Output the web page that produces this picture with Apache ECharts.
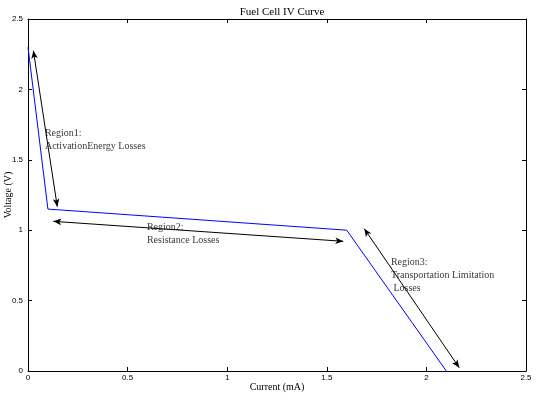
<!DOCTYPE html>
<html>
<head>
<meta charset="utf-8">
<script src="https://cdn.jsdelivr.net/npm/echarts@6/dist/echarts.min.js"></script>
<style>
  html, body { margin: 0; padding: 0; background: #fff; }
  #chart { width: 539px; height: 399px; }
</style>
</head>
<body>
<div id="chart"></div>
<script>
// IV curve of the fuel cell
const curveX = [0, 0.1, 1.6, 2.1];
const curveY = [2.3, 1.15, 1.0, 0];

// double arrows [x1, y1, x2, y2]
const arrows = [
  [0.027, 2.275, 0.147, 1.167],
  [0.127, 1.063, 1.583, 0.921],
  [1.688, 1.011, 2.165, 0.023]
];

// labels: [x, y, text]
const labels = [
  [0.08, 1.644, 'Region1:\nActivationEnergy Losses'],
  [0.592, 0.973, 'Region2:\nResistance Losses'],
  [1.817, 0.682, 'Region3:\nTransportation Limitation\n Losses']
];

const tickLabels = ['0', '0.5', '1', '1.5', '2', '2.5'];

const serif = '"Liberation Serif", "DejaVu Serif", serif';
const sans = '"Liberation Sans", Arial, sans-serif';

const chart = echarts.init(document.getElementById('chart'), null, { renderer: 'canvas' });

const axisCommon = {
  type: 'value',
  min: 0,
  max: 2.5,
  interval: 0.5,
  splitLine: { show: false },
  axisLine: { show: true, onZero: false, lineStyle: { color: '#000', width: 1 } },
  axisTick: { show: true, inside: true, length: 4, lineStyle: { color: '#000' } }
};

const pairs = curveX.map((x, i) => [x, curveY[i]]);

chart.setOption({
  animation: false,
  title: {
    text: 'Fuel Cell IV Curve',
    left: 277,
    top: 2,
    textAlign: 'center',
    textStyle: { fontFamily: serif, fontSize: 11, fontWeight: 'normal', color: '#000' }
  },
  grid: { left: 28, right: 13, top: 19, bottom: 28, containLabel: false, outerBoundsMode: 'none' },
  xAxis: [
    Object.assign({}, axisCommon, {
      position: 'bottom',
      name: 'Current (mA)',
      nameLocation: 'middle',
      nameGap: 11,
      nameMoveOverlap: false,
      nameTextStyle: { fontFamily: serif, fontSize: 10, color: '#000' },
      axisLabel: {
        fontFamily: sans, fontSize: 8, color: '#000', margin: 3,
        formatter: v => tickLabels[Math.round(v / 0.5)]
      }
    }),
    Object.assign({}, axisCommon, { position: 'top', axisLabel: { show: false } })
  ],
  yAxis: [
    Object.assign({}, axisCommon, {
      position: 'left',
      name: 'Voltage (V)',
      nameLocation: 'middle',
      nameGap: 15,
      nameMoveOverlap: false,
      nameTextStyle: { fontFamily: serif, fontSize: 10, color: '#000' },
      axisLabel: {
        fontFamily: sans, fontSize: 8, color: '#000', margin: 5,
        formatter: v => tickLabels[Math.round(v / 0.5)]
      }
    }),
    Object.assign({}, axisCommon, { position: 'right', axisLabel: { show: false } })
  ],
  series: [
    {
      type: 'line',
      data: [],
      z: 1,
      markLine: {
        silent: true,
        symbol: ['arrow', 'arrow'],
        symbolSize: [5, 8],
        label: { show: false },
        lineStyle: { color: '#000', width: 1, type: 'solid' },
        data: arrows.map(a => [
          { coord: [a[0], a[1]] },
          { coord: [a[2], a[3]] }
        ])
      }
    },
    {
      type: 'scatter',
      data: labels.map(l => [l[0], l[1]]),
      symbolSize: 0,
      z: 2,
      label: {
        show: true,
        position: 'right',
        distance: 0,
        formatter: p => labels[p.dataIndex][2],
        fontFamily: serif,
        fontSize: 10,
        lineHeight: 13,
        color: '#000',
        backgroundColor: '#fff',
        padding: [0, 1]
      }
    },
    {
      type: 'line',
      data: pairs,
      symbol: 'none',
      lineStyle: { color: '#0000ff', width: 1 },
      z: 3
    }
  ]
});
</script>
</body>
</html>
